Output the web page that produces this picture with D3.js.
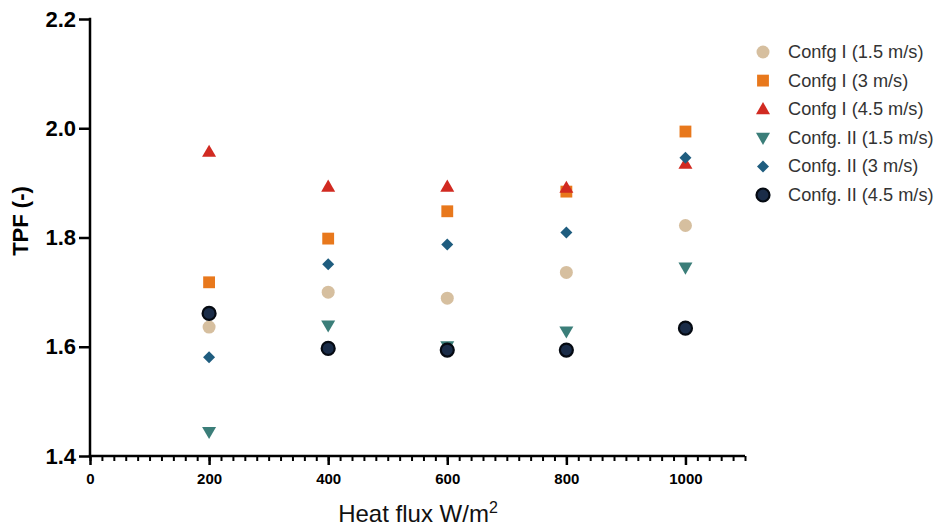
<!DOCTYPE html>
<html><head><meta charset="utf-8">
<script src="https://cdn.jsdelivr.net/npm/d3@7"></script>
<style>body{margin:0;background:#fff;} svg{display:block;}</style>
</head><body><svg id="c" width="939" height="530"></svg>
<script>
const heatFlux = [200, 400, 600, 800, 1000];
const seriesNames = ["Confg I (1.5 m/s)","Confg I (3 m/s)","Confg I (4.5 m/s)","Confg. II (1.5 m/s)","Confg. II (3 m/s)","Confg. II (4.5 m/s)"];
const confgI_15 = [1.636, 1.700, 1.689, 1.736, 1.822];
const confgI_3  = [1.718, 1.798, 1.848, 1.884, 1.994];
const confgI_45 = [1.957, 1.893, 1.893, 1.891, 1.935];
const confgII_15 = [1.444, 1.639, 1.601, 1.628, 1.745];
const confgII_3  = [1.581, 1.751, 1.787, 1.809, 1.946];
const confgII_45 = [1.661, 1.597, 1.594, 1.594, 1.634];
const yTicks = [1.4, 1.6, 1.8, 2.0, 2.2];
const xTicks = [0, 200, 400, 600, 800, 1000];

const seriesValues = [confgI_15, confgI_3, confgI_45, confgII_15, confgII_3, confgII_45];
const colors = ["#d6bf9f","#e8781c","#d12a21","#3b7e79","#1f5d7f","#14223a"];
const shapes = ["circle","square","triangle","tridown","diamond","circleB"];

const svg = d3.select("#c");
const x = d3.scaleLinear().domain([0,1100]).range([90,745]);
const y = d3.scaleLinear().domain([1.4,2.2]).range([456,19]);
const FONT = "Liberation Sans, Arial, sans-serif";

// axes
const yAxis = d3.axisLeft(y).tickValues(yTicks).tickFormat(d3.format(".1f")).tickSize(11).tickPadding(3).tickSizeOuter(0);
const gy = svg.append("g").attr("transform","translate(90,0)").call(yAxis);
gy.select(".domain").attr("stroke","#000").attr("stroke-width",2.5).attr("d","M0,17.75V456");
gy.selectAll(".tick line").attr("stroke","#000").attr("stroke-width",2.5);
gy.selectAll(".tick text").attr("font-family",FONT).attr("font-weight","bold").attr("font-size",22).attr("fill","#000");

const minor = d3.range(0,1101,20);
const gxm = svg.append("g").attr("transform","translate(0,456)").call(d3.axisBottom(x).tickValues(minor).tickSize(5).tickFormat(""));
gxm.select(".domain").remove();
gxm.selectAll(".tick line").attr("stroke","#000").attr("stroke-width",2);
const gx = svg.append("g").attr("transform","translate(0,456)").call(d3.axisBottom(x).tickValues(xTicks).tickFormat(d3.format("d")).tickSize(9).tickPadding(8).tickSizeOuter(0));
gx.select(".domain").attr("stroke","#000").attr("stroke-width",2.5).attr("d","M88.75,0H745");
gx.selectAll(".tick line").attr("stroke","#000").attr("stroke-width",2.5);
gx.selectAll(".tick text").attr("font-family",FONT).attr("font-weight","bold").attr("font-size",15).attr("fill","#000");

// titles
svg.append("text").attr("transform","translate(28,221) rotate(-90)").attr("text-anchor","middle")
  .attr("font-family",FONT).attr("font-weight","bold").attr("font-size",22).text("TPF (-)");
const xt = svg.append("text").attr("x",418).attr("y",522).attr("text-anchor","middle")
  .attr("font-family",FONT).attr("font-size",24).attr("fill","#111");
xt.append("tspan").text("Heat flux W/m");
xt.append("tspan").attr("dy",-9).attr("font-size",16).text("2");

function drawMarker(g, shape, color){
  if(shape==="circle"){ g.append("circle").attr("r",6.5).attr("fill",color); }
  else if(shape==="circleB"){ g.append("circle").attr("r",6.5).attr("fill","#1a2c48").attr("stroke","#050a12").attr("stroke-width",2.2); }
  else if(shape==="square"){ g.append("path").attr("d",d3.symbol(d3.symbolSquare,140)()).attr("fill",color); }
  else if(shape==="triangle"){ g.append("path").attr("d",d3.symbol(d3.symbolTriangle,85)()).attr("transform","translate(0,1)").attr("fill",color); }
  else if(shape==="tridown"){ g.append("path").attr("d",d3.symbol(d3.symbolTriangle,85)()).attr("transform","translate(0,-1) rotate(180)").attr("fill",color); }
  else if(shape==="diamond"){ g.append("path").attr("d",d3.symbol(d3.symbolSquare,72)()).attr("transform","rotate(45)").attr("fill",color); }
}

// points
seriesValues.forEach((vals,si)=>{
  vals.forEach((v,i)=>{
    const g = svg.append("g").attr("transform",`translate(${x(heatFlux[i])},${y(v)})`);
    drawMarker(g, shapes[si], colors[si]);
  });
});

// legend
const leg = svg.append("g");
seriesNames.forEach((n,i)=>{
  const yy = 52 + i*28.6;
  const g = leg.append("g").attr("transform",`translate(763,${yy})`);
  drawMarker(g, shapes[i], colors[i]);
  leg.append("text").attr("x",788).attr("y",yy+6).attr("font-family",FONT)
    .attr("font-size",18.2).attr("fill","#333").text(n);
});
</script></body></html>
